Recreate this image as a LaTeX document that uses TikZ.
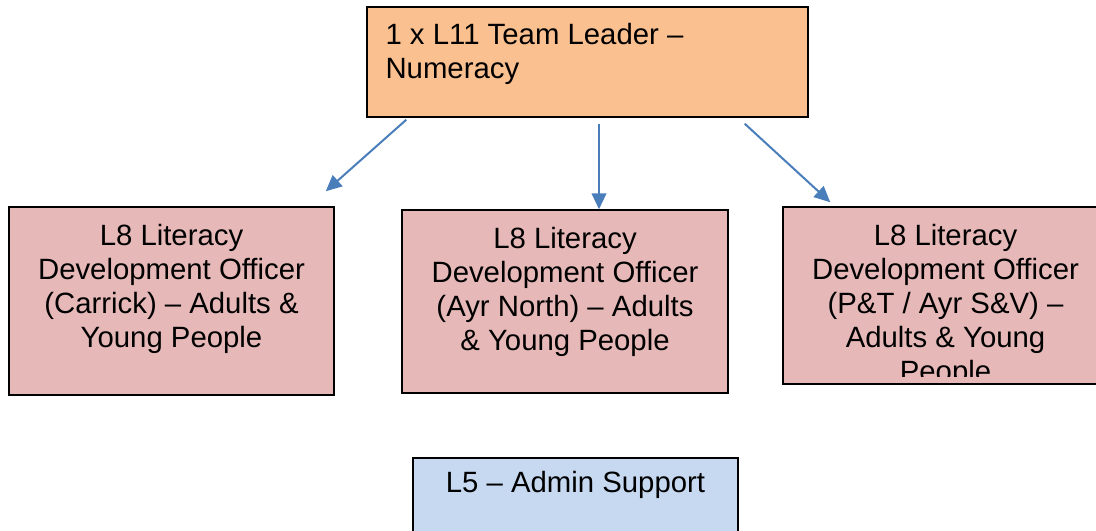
\documentclass[tikz,border=0pt]{standalone}
\usepackage{fontspec}
\setmainfont{Liberation Sans}
\usetikzlibrary{positioning, calc, arrows.meta}
\definecolor{leadfill}{RGB}{250,192,144}
\definecolor{officerfill}{RGB}{230,185,184}
\definecolor{adminfill}{RGB}{198,217,241}
\definecolor{arrowblue}{RGB}{74,126,187}
\tikzstyle{every node}=[font=\fontsize{22}{25.5}\selectfont, inner sep=0pt]
\tikzstyle{lead} = [rectangle, minimum width=330.75pt, minimum height=82.5pt, draw=black, line width=1.1pt, fill=leadfill]
\tikzstyle{officer} = [rectangle, minimum width=243.75pt, minimum height=141pt, draw=black, line width=1.1pt, fill=officerfill]
\tikzstyle{admin} = [rectangle, minimum width=243.75pt, minimum height=75pt, draw=black, line width=1.1pt, fill=adminfill]
\tikzstyle{role} = [align=center]
\tikzstyle{arrow} = [line width=1.5pt, draw=arrowblue, -{Triangle[length=12pt, width=11pt]}]

\begin{document}
\begin{tikzpicture}[x=0.75pt, y=-0.75pt]
        \useasboundingbox (0,0) rectangle (1096,531);

        \node (lead) [lead] at (587.5,62) {};
          \node (lead-text) [align=left, below right=12.75pt and 14.25pt of lead.north west] {1 x L11 Team Leader --\\Numeracy};

        \node (carrick) [officer] at (171.5,301) {};
          \node (carrick-text) [role, below=13.5pt of carrick.north] {L8 Literacy\\Development Officer\\(Carrick) -- Adults \&\\Young People};
        \node (ayrnorth) [officer, minimum width=244.5pt, minimum height=137.25pt] at (565,301.5) {};
          \node (ayrnorth-text) [role, below=13.5pt of ayrnorth.north] {L8 Literacy\\Development Officer\\(Ayr North) -- Adults\\\& Young People};
        \node (ptayr) [officer, minimum height=132.75pt] at (945.5,295.5) {};
          \begin{scope}
            \clip (ptayr.north west) rectangle ($(ptayr.south east)+(0,-8)$);
            \node (ptayr-text) [role, below=13pt of ptayr.north] {L8 Literacy\\Development Officer\\(P\&T / Ayr S\&V) --\\Adults \& Young\\People};
          \end{scope}

        \node (admin) [admin] at (575.5,508) {};
          \node (admin-text) [below=10.5pt of admin.north] {L5 -- Admin Support};

        \draw [arrow] ($(lead.south west)+(40,2)$) -- ($(carrick.north east)+(-9,-15)$);
        \draw [arrow] ($(lead.south)+(11.5,6)$) -- ($(ayrnorth.north)+(34,0)$);
        \draw [arrow] ($(lead.south east)+(-64,6)$) -- ($(ptayr.north west)+(48,-4)$);
      \end{tikzpicture}
\end{document}
